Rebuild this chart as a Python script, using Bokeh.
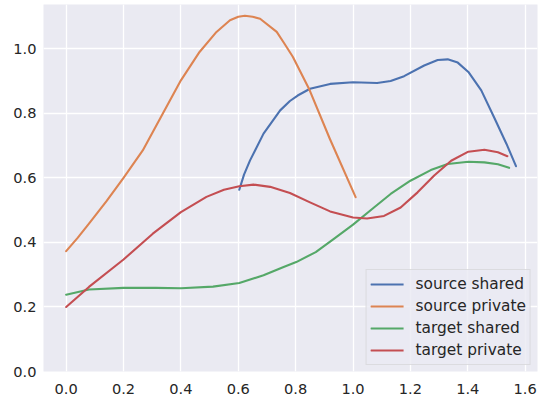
from bokeh.plotting import figure
from bokeh.models import FixedTicker, Legend, LegendItem, Range1d
from bokeh.embed import file_html
from bokeh.resources import INLINE

# ---- data ----
source_private_x = [0.0, 0.04, 0.0795, 0.14, 0.2, 0.267, 0.337, 0.4, 0.465, 0.524, 0.571, 0.60, 0.623, 0.65, 0.676, 0.734, 0.76, 0.79, 0.846, 0.919, 1.009]
source_private_y = [0.373, 0.414, 0.458, 0.527, 0.6, 0.685, 0.799, 0.902, 0.99, 1.052, 1.088, 1.099, 1.102, 1.099, 1.093, 1.052, 1.017, 0.975, 0.877, 0.721, 0.54]

source_shared_x = [0.6035, 0.62, 0.641, 0.688, 0.746, 0.78, 0.807, 0.85, 0.92, 1.0, 1.084, 1.131, 1.178, 1.248, 1.295, 1.33, 1.365, 1.402, 1.447, 1.494, 1.535, 1.568]
source_shared_y = [0.563, 0.61, 0.654, 0.737, 0.809, 0.838, 0.855, 0.876, 0.891, 0.896, 0.894, 0.9, 0.915, 0.948, 0.965, 0.967, 0.957, 0.928, 0.871, 0.783, 0.705, 0.636]

target_shared_x = [0.0, 0.0795, 0.2, 0.313, 0.4, 0.512, 0.6035, 0.688, 0.758, 0.802, 0.87, 0.932, 1.0, 1.073, 1.131, 1.2, 1.271, 1.33, 1.402, 1.458, 1.505, 1.544]
target_shared_y = [0.238, 0.254, 0.259, 0.259, 0.258, 0.263, 0.274, 0.298, 0.324, 0.339, 0.37, 0.41, 0.455, 0.508, 0.55, 0.591, 0.624, 0.643, 0.65, 0.648, 0.642, 0.631]

target_private_x = [0.0, 0.0795, 0.2, 0.302, 0.4, 0.489, 0.55, 0.6035, 0.653, 0.711, 0.78, 0.85, 0.92, 1.0, 1.049, 1.108, 1.166, 1.225, 1.283, 1.342, 1.402, 1.458, 1.505, 1.538]
target_private_y = [0.2, 0.262, 0.347, 0.427, 0.494, 0.541, 0.563, 0.574, 0.579, 0.572, 0.553, 0.524, 0.496, 0.477, 0.474, 0.482, 0.508, 0.555, 0.607, 0.653, 0.681, 0.687, 0.679, 0.667]

series_labels = ["source shared", "source private", "target shared", "target private"]
series_colors = ["#4C72B0", "#DD8452", "#55A868", "#C44E52"]

x_ticks = [0.0, 0.2, 0.4, 0.6, 0.8, 1.0, 1.2, 1.4, 1.6]
y_ticks = [0.0, 0.2, 0.4, 0.6, 0.8, 1.0]
x_tick_labels = ["0.0", "0.2", "0.4", "0.6", "0.8", "1.0", "1.2", "1.4", "1.6"]
y_tick_labels = ["0.0", "0.2", "0.4", "0.6", "0.8", "1.0"]

FONT = "DejaVu Sans"
TEXT = "#262626"

p = figure(width=542, height=400, output_backend="svg", toolbar_location=None,
           x_range=Range1d(-0.079, 1.643), y_range=Range1d(0.0, 1.137),
           min_border_left=43, min_border_right=5, min_border_top=4, min_border_bottom=29)

p.background_fill_color = "#EAEAF2"
p.border_fill_color = "white"
p.outline_line_color = None

for g in (p.xgrid, p.ygrid):
    g.grid_line_color = "white"
    g.grid_line_width = 1.3
p.xgrid.ticker = FixedTicker(ticks=x_ticks)
p.ygrid.ticker = FixedTicker(ticks=y_ticks)

for ax, ticks, labels in ((p.xaxis[0], x_ticks, x_tick_labels), (p.yaxis[0], y_ticks, y_tick_labels)):
    ax.ticker = FixedTicker(ticks=ticks, minor_ticks=[])
    ax.major_label_overrides = {t: l for t, l in zip(ticks, labels)}
    ax.axis_line_color = None
    ax.major_tick_line_color = None
    ax.minor_tick_line_color = None
    ax.major_tick_out = 0
    ax.major_tick_in = 0
    ax.major_label_text_font = FONT
    ax.major_label_text_font_size = "14.6px"
    ax.major_label_text_color = TEXT
p.xaxis[0].major_label_standoff = 12
p.yaxis[0].major_label_standoff = 7

xs = [source_shared_x, source_private_x, target_shared_x, target_private_x]
ys = [source_shared_y, source_private_y, target_shared_y, target_private_y]
items = []
for x, y, lab, col in zip(xs, ys, series_labels, series_colors):
    r = p.line(x, y, line_color=col, line_width=2.1, line_cap="round", line_join="round")
    items.append(LegendItem(label=lab, renderers=[r]))

legend = Legend(items=items, location="bottom_right")
legend.margin = 6
legend.padding = 4
legend.spacing = 2
legend.glyph_width = 33
legend.glyph_height = 20
legend.label_height = 20
legend.label_standoff = 12
legend.label_text_font = FONT
legend.label_text_font_size = "15.4px"
legend.label_text_color = TEXT
legend.background_fill_color = "#EAEAF2"
legend.background_fill_alpha = 0.8
legend.border_line_color = "#CCCCCC"
legend.border_line_width = 1
p.add_layout(legend, "center")

open("out.html", "w").write(file_html(p, INLINE))
